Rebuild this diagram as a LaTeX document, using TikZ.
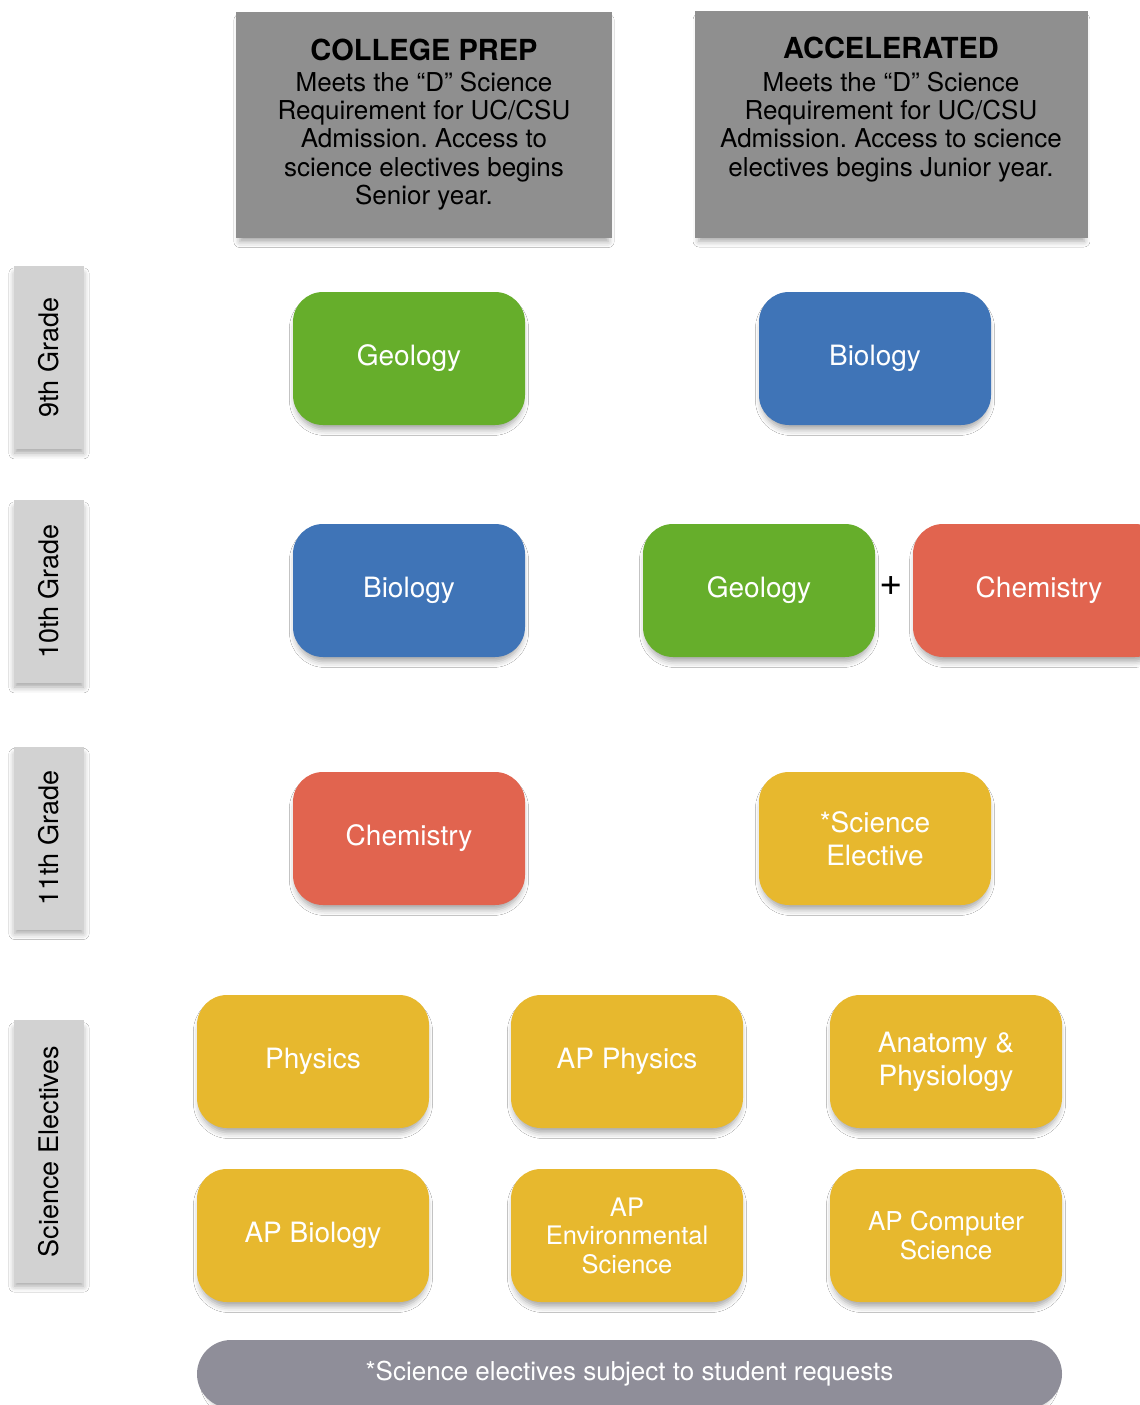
\documentclass[tikz,border=0pt]{standalone}
\usepackage{fontspec}
\usepackage{graphicx}
\setmainfont{TeX Gyre Heros}
\usetikzlibrary{shadows,shadows.blur}
\definecolor{cgreen}{HTML}{66AE2B}
\definecolor{cblue}{HTML}{3F74B7}
\definecolor{cred}{HTML}{E1644F}
\definecolor{cyellow}{HTML}{E7B82E}
\definecolor{headgray}{HTML}{8F8F8F}
\definecolor{sidegray}{HTML}{D2D2D2}
\definecolor{bargray}{HTML}{8F8E99}
\frenchspacing
\begin{document}
\begin{tikzpicture}[x=1pt,y=-1pt,
  shad/.style={blur shadow={shadow xshift=0pt, shadow yshift=-6pt, shadow scale=0.98, shadow blur radius=6pt, shadow opacity=35}},
  course/.style={shad, rounded corners=30pt, minimum width=232pt, minimum height=133pt, inner sep=0pt, text=white, align=center, font=\fontsize{28}{33}\selectfont},
  sidebox/.style={shad, fill=sidegray, minimum width=70pt, inner sep=0pt, font=\fontsize{27}{30}\selectfont},
  headbox/.style={shad, fill=headgray, minimum height=226pt, inner sep=0pt},
  headtitle/.style={inner sep=0pt, font=\fontsize{29}{30}\selectfont\bfseries},
  headtext/.style={inner sep=0pt, anchor=north, align=center, font=\fontsize{26}{28.3}\selectfont}
]
\useasboundingbox (0,0) rectangle (1140,1405);
\fill[white] (0,0) rectangle (1140,1405);

% headers
\node[headbox, minimum width=376pt] (cphead) at (424,125) {};
\node[headtitle] (cptitle) at (424,50) {COLLEGE PREP};
\node[headtext] (cptext) at (424,71.5) {Meets the “D” Science\\Requirement for UC/CSU\\Admission. Access to\\science electives begins\\Senior year.};
\node[headbox, minimum width=393pt] (acchead) at (891.5,124.5) {};
\node[headtitle] (acctitle) at (891,48) {ACCELERATED};
\node[headtext] (acctext) at (891,71.5) {Meets the “D” Science\\Requirement for UC/CSU\\Admission. Access to science\\electives begins Junior year.};

% side labels
\node[sidebox, minimum height=183pt] (g9) at (49,357.5) {\rotatebox{90}{9th Grade}};
\node[sidebox, minimum height=183pt] (g10) at (49,591.5) {\rotatebox{90}{10th Grade}};
\node[sidebox, minimum height=183pt] (g11) at (49,838) {\rotatebox{90}{11th Grade}};
\node[sidebox, minimum height=263pt] (gse) at (49,1151.5) {\rotatebox{90}{Science Electives}};

% 9th grade
\node[course, fill=cgreen] (cpgeo) at (409,358.5) {Geology};
\node[course, fill=cblue] (accbio) at (875,358.5) {Biology};
% 10th grade
\node[course, fill=cblue] (cpbio) at (409,590.5) {Biology};
\node[course, fill=cgreen] (accgeo) at (759,590.5) {Geology};
\node[course, fill=cred, minimum width=252pt] (accchem) at (1039,590.5) {Chemistry};
\node[inner sep=0pt, font=\fontsize{40}{40}\selectfont] (plus) at (891,586) {+};
% 11th grade
\node[course, fill=cred] (cpchem) at (409,838.5) {Chemistry};
\node[course, fill=cyellow] (accel) at (875,838.5) {*Science\\Elective};
% electives
\node[course, fill=cyellow] (phys) at (313,1061.5) {Physics};
\node[course, fill=cyellow] (apphys) at (627,1061.5) {AP Physics};
\node[course, fill=cyellow] (anat) at (946,1061.5) {Anatomy \&\\Physiology};
\node[course, fill=cyellow] (apbio) at (313,1235.5) {AP Biology};
\node[course, fill=cyellow, font=\fontsize{25.5}{28.5}\selectfont] (apenv) at (627,1235.5) {AP\\Environmental\\Science};
\node[course, fill=cyellow, font=\fontsize{26}{28.5}\selectfont] (apcs) at (946,1235.5) {AP Computer\\Science};

% bottom bar
\node[shad, fill=bargray, rounded corners=34pt, minimum width=865pt, minimum height=68pt, inner sep=0pt, text=white, font=\fontsize{26}{28}\selectfont] (note) at (629.5,1374) {*Science electives subject to student requests};
\end{tikzpicture}
\end{document}
